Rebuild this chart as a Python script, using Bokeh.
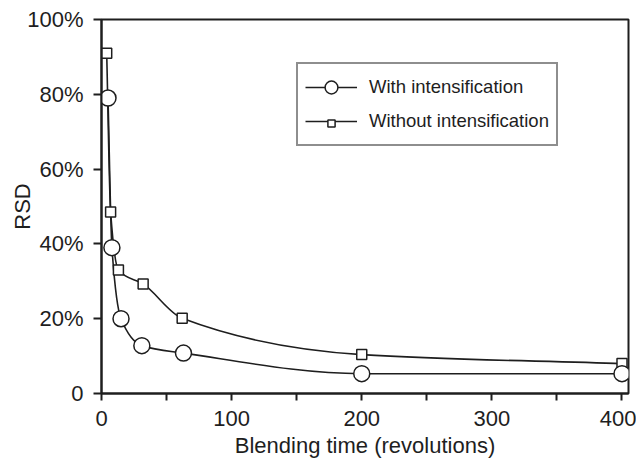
from bokeh.plotting import figure
from bokeh.models import ColumnDataSource, FixedTicker, Legend, LegendItem
from bokeh.embed import file_html
from bokeh.resources import INLINE

# ---- data ----
x_with = [5, 8, 15, 31, 63, 200, 400]
rsd_with = [79, 39, 20, 12.8, 10.8, 5.3, 5.3]          # percent
x_without = [4, 7, 13, 32, 62, 200, 400]
rsd_without = [91, 48.5, 33, 29.3, 20.1, 10.4, 8.0]    # percent
label_with = "With intensification"
label_without = "Without intensification"
y_ticks = [0, 20, 40, 60, 80, 100]
y_tick_labels = ["0", "20%", "40%", "60%", "80%", "100%"]
x_ticks = [0, 100, 200, 300, 400]
x_minor_ticks = [50, 150, 250, 350]
x_title = "Blending time (revolutions)"
y_title = "RSD"

FONT = "Liberation Sans"
INK = "#1e1e1e"


def smooth_segments(xs, ys):
    """Bezier control points for a monotone (PCHIP-style) smooth curve through the points."""
    n = len(xs)
    h = [xs[i + 1] - xs[i] for i in range(n - 1)]
    s = [(ys[i + 1] - ys[i]) / h[i] for i in range(n - 1)]
    d = [0.0] * n
    d[0] = s[0]
    d[-1] = s[-1]
    for i in range(1, n - 1):
        if s[i - 1] * s[i] <= 0:
            d[i] = 0.0
        else:
            w1 = 2 * h[i] + h[i - 1]
            w2 = h[i] + 2 * h[i - 1]
            d[i] = (w1 + w2) / (w1 / s[i - 1] + w2 / s[i])
    out = dict(x0=[], y0=[], x1=[], y1=[], cx0=[], cy0=[], cx1=[], cy1=[])
    for i in range(n - 1):
        out["x0"].append(xs[i]); out["y0"].append(ys[i])
        out["x1"].append(xs[i + 1]); out["y1"].append(ys[i + 1])
        out["cx0"].append(xs[i] + h[i] / 3.0)
        out["cy0"].append(ys[i] + d[i] * h[i] / 3.0)
        out["cx1"].append(xs[i + 1] - h[i] / 3.0)
        out["cy1"].append(ys[i + 1] - d[i + 1] * h[i] / 3.0)
    return ColumnDataSource(out)


p = figure(width=636, height=460, output_backend="svg", toolbar_location=None,
           x_range=(0, 405), y_range=(0, 100),
           min_border_left=101, min_border_right=8, min_border_top=19, min_border_bottom=66)
p.grid.visible = False
p.outline_line_color = INK
p.outline_line_width = 2
p.background_fill_color = "white"
p.border_fill_color = "white"

# smooth curves
for xs, ys in ((x_with, rsd_with), (x_without, rsd_without)):
    p.bezier(x0="x0", y0="y0", x1="x1", y1="y1", cx0="cx0", cy0="cy0", cx1="cx1", cy1="cy1",
             source=smooth_segments(xs, ys), line_color=INK, line_width=1.6)

# legend-only lines (hidden on the plot)
leg_line_with = p.line(x_with, rsd_with, line_color=INK, line_width=1.6, visible=False)
leg_line_without = p.line(x_without, rsd_without, line_color=INK, line_width=1.6, visible=False)

# markers
sq = p.scatter(x_without, rsd_without, marker="square", size=10, fill_color="white",
               line_color=INK, line_width=1.5)
ci = p.scatter(x_with, rsd_with, marker="circle", size=16, fill_color="white",
               line_color=INK, line_width=1.5)

# axes
xa = p.xaxis[0]
xa.ticker = FixedTicker(ticks=x_ticks, minor_ticks=x_minor_ticks)
xa.major_tick_in = 0
xa.major_tick_out = 7
xa.minor_tick_in = 0
xa.minor_tick_out = 7
xa.axis_line_width = 2
xa.major_tick_line_width = 2
xa.minor_tick_line_width = 2
xa.axis_line_color = INK
xa.major_tick_line_color = INK
xa.minor_tick_line_color = INK
xa.major_label_text_font = FONT
xa.major_label_text_font_size = "22px"
xa.major_label_text_color = INK
xa.major_label_standoff = 10
xa.axis_label = x_title
xa.axis_label_text_font = FONT
xa.axis_label_text_font_size = "22px"
xa.axis_label_text_font_style = "normal"
xa.axis_label_text_color = INK
xa.axis_label_standoff = 4

ya = p.yaxis[0]
ya.ticker = FixedTicker(ticks=y_ticks, minor_ticks=[])
ya.major_label_overrides = {t: l for t, l in zip(y_ticks, y_tick_labels)}
ya.major_tick_in = 0
ya.major_tick_out = 8
ya.axis_line_width = 2
ya.major_tick_line_width = 2
ya.axis_line_color = INK
ya.major_tick_line_color = INK
ya.major_label_text_font = FONT
ya.major_label_text_font_size = "22px"
ya.major_label_text_color = INK
ya.major_label_standoff = 10
ya.axis_label = y_title
ya.axis_label_text_font = FONT
ya.axis_label_text_font_size = "22px"
ya.axis_label_text_font_style = "normal"
ya.axis_label_text_color = INK
ya.axis_label_standoff = -11

# legend: box with lines + circle; small square drawn by a second, borderless legend
legend = Legend(items=[LegendItem(label=label_with, renderers=[leg_line_with, ci]),
                       LegendItem(label=label_without, renderers=[leg_line_without])],
                location=(195, 247), glyph_width=52, glyph_height=32, label_height=32,
                spacing=2, padding=7, label_standoff=12, border_line_color=INK,
                border_line_width=2, background_fill_alpha=1.0,
                label_text_font=FONT, label_text_font_size="18.5px", label_text_color=INK,
                click_policy="none", margin=0)
p.add_layout(legend)
legend2 = Legend(items=[LegendItem(label=" ", renderers=[sq])],
                 location=(204, 261), glyph_width=52, glyph_height=18, label_height=18,
                 label_width=1, padding=0, spacing=0, label_standoff=0,
                 border_line_alpha=0, background_fill_alpha=0, label_text_font_size="1px",
                 click_policy="none", margin=0)
p.add_layout(legend2)

open("out.html", "w").write(file_html(p, INLINE))
